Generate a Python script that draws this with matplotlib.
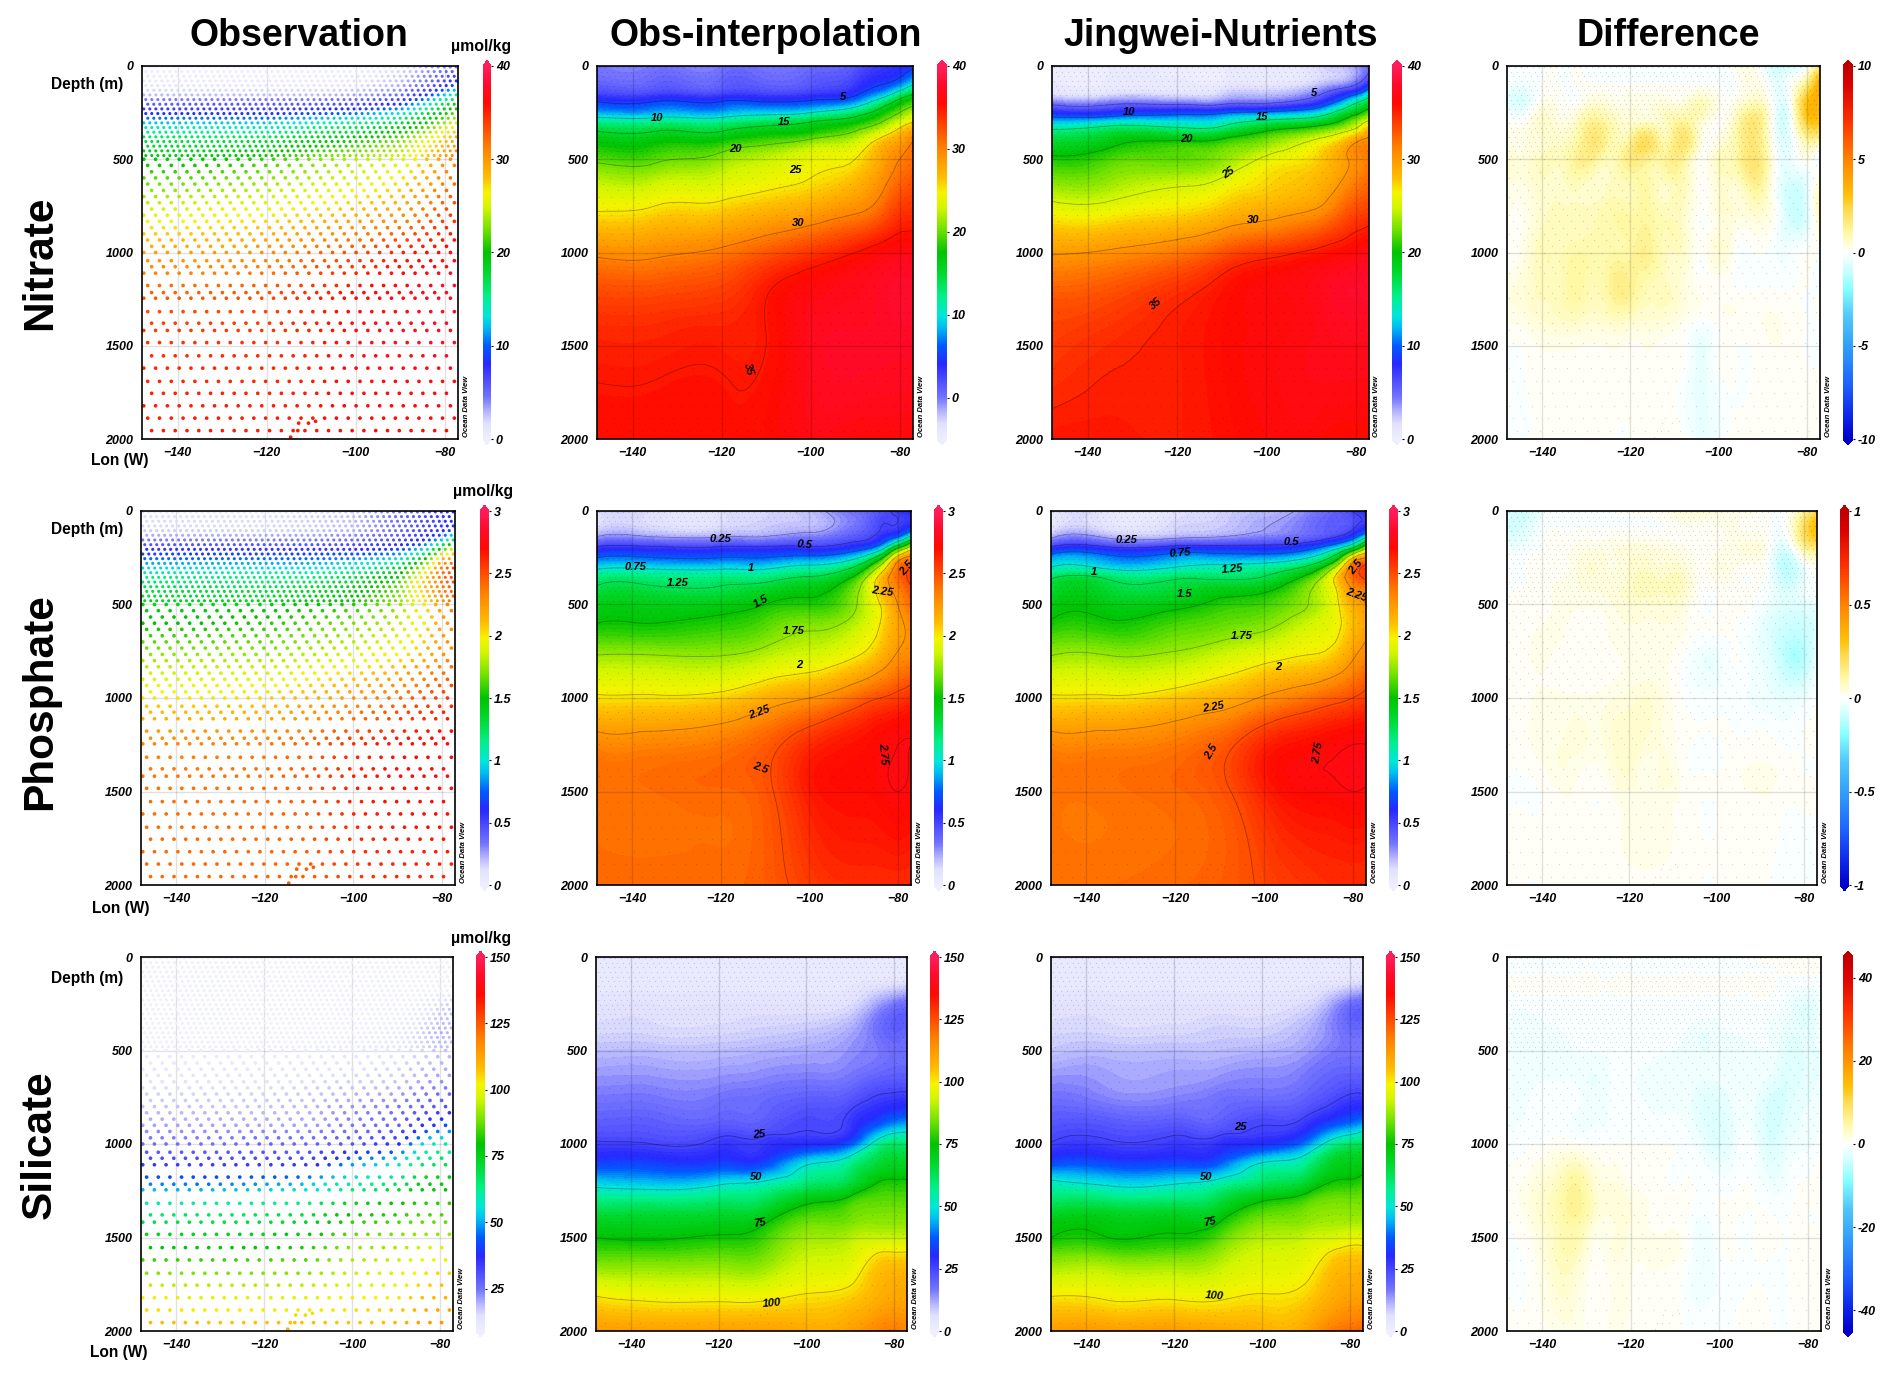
#!/usr/bin/env python
import numpy as np
import matplotlib
matplotlib.use("Agg")
import matplotlib.pyplot as plt
from matplotlib.cm import ScalarMappable
from matplotlib.colors import LinearSegmentedColormap, Normalize
from matplotlib.tri import Triangulation, UniformTriRefiner

plt.rcParams["font.family"] = ["Liberation Sans", "DejaVu Sans"]

W, H = 1892, 1380

LONS = [-148, -135, -120, -110, -100, -90, -84, -80, -77]
DEPTHS = [0, 100, 150, 200, 250, 300, 350, 400, 500, 600, 750, 1000, 1250, 1500, 2000]
SI_DEPTHS = [0, 150, 250, 400, 500, 650, 800, 900, 1000, 1100, 1200, 1300, 1400, 1500, 1600, 1800, 2000]
DIFF_LONS = [-148, -144, -140, -136, -132, -128, -124, -120, -116, -112, -108, -104, -100, -96, -92, -88, -84, -80, -77]
DIFF_DEPTHS = [0, 100, 200, 300, 400, 500, 650, 800, 1000, 1200, 1400, 1600, 2000]

no3_obs = [
    [0, 0, 0, 0, 0.5, 1.5, 3, 4, 4.5],
    [1, 1, 1, 1, 1.5, 3, 5, 7, 10],
    [2.5, 2.5, 2.5, 2.5, 3, 4.5, 8, 12, 15],
    [5.5, 5.5, 5.5, 5.5, 6, 8, 13, 17, 19],
    [8, 8, 8, 9, 10, 13, 17, 20, 22],
    [12, 12, 12, 13.5, 15, 17, 20, 23, 25],
    [15, 15, 15, 16.5, 17.5, 20, 23, 26, 28],
    [17, 17, 17.5, 19, 20.5, 22.5, 26, 28, 30],
    [19.5, 19.5, 21, 22.5, 24, 25, 28, 30, 31],
    [22, 22, 23, 24, 25, 26.5, 29, 31, 32],
    [24.5, 25, 25.5, 26.5, 27.5, 29, 31, 33, 33.5],
    [29.5, 29.5, 30.5, 32, 33.5, 35, 36, 36.5, 36.5],
    [33, 33, 33.5, 35, 36.5, 37, 37.5, 38, 38],
    [34.5, 34.5, 34.7, 35, 37, 37.5, 37.5, 37.5, 37.5],
    [35.5, 35.5, 35.3, 35.5, 36.5, 36, 36, 36, 36],
]
no3_model = [
    [0.3, 0.3, 0.3, 0.3, 0.6, 1.5, 2.5, 3.5, 5],
    [0.5, 0.5, 0.5, 0.7, 1, 2, 3.5, 5, 8],
    [1.5, 1.5, 1.5, 2, 2.5, 4, 7, 9.5, 13],
    [4.5, 4.5, 4.5, 4.5, 5, 7, 11, 15, 18],
    [8, 8, 9, 9.5, 10.5, 12, 16, 19, 21.5],
    [12, 13, 13, 13.5, 16, 17.5, 20, 23, 25.5],
    [15.5, 17, 16.5, 17, 20, 22, 24, 26, 29],
    [17.5, 19, 20, 20.5, 22.5, 25, 27, 29.5, 30.5],
    [20.5, 21.5, 22, 23, 25.5, 27, 29, 30.5, 31.5],
    [22.5, 23, 24, 25, 27, 28, 29.5, 31, 32],
    [25.5, 25.5, 26.5, 27.5, 28.5, 29.5, 31.5, 33, 33.5],
    [29.8, 30.3, 31.5, 33, 34.3, 35.3, 36, 36.5, 37],
    [33, 33.5, 34.8, 35.8, 36.5, 37, 37.8, 38, 38],
    [34, 34.7, 35.3, 36, 36.5, 37, 37.3, 37.3, 37.3],
    [35.5, 35.5, 35.3, 35.8, 36.3, 36.5, 36, 36, 36],
]
po4_obs = [
    [.12, .12, .12, .15, .2, .35, .45, .55, .6],
    [.15, .15, .15, .18, .22, .35, .5, .55, .7],
    [.3, .3, .3, .3, .35, .45, .6, .85, 1.2],
    [.55, .55, .55, .55, .55, .65, .9, 1.5, 1.9],
    [.75, .75, .75, .75, .8, .95, 1.4, 2.1, 2.3],
    [.95, .95, .95, .95, 1.05, 1.25, 1.8, 2.35, 2.5],
    [1.15, 1.15, 1.15, 1.15, 1.25, 1.5, 2.05, 2.4, 2.55],
    [1.25, 1.25, 1.25, 1.3, 1.4, 1.65, 2.1, 2.35, 2.5],
    [1.4, 1.4, 1.42, 1.5, 1.55, 1.72, 2.0, 2.25, 2.4],
    [1.5, 1.5, 1.55, 1.62, 1.7, 1.8, 2.0, 2.2, 2.3],
    [1.72, 1.72, 1.72, 1.78, 1.85, 1.95, 2.1, 2.25, 2.3],
    [2.02, 2.02, 2.05, 2.15, 2.25, 2.4, 2.5, 2.55, 2.6],
    [2.33, 2.33, 2.37, 2.45, 2.6, 2.68, 2.72, 2.75, 2.75],
    [2.4, 2.4, 2.42, 2.47, 2.65, 2.7, 2.72, 2.75, 2.73],
    [2.42, 2.42, 2.42, 2.45, 2.55, 2.6, 2.6, 2.6, 2.6],
]
po4_model = [
    [.05, .08, .1, .15, .2, .3, .4, .5, .6],
    [.1, .12, .15, .18, .25, .35, .42, .5, .65],
    [.27, .27, .27, .3, .35, .42, .55, .75, 1.1],
    [.55, .55, .6, .6, .6, .7, .95, 1.3, 1.75],
    [.85, .8, .85, .85, .85, 1.0, 1.35, 2.0, 2.25],
    [1.0, .95, 1.0, 1.05, 1.1, 1.3, 1.75, 2.35, 2.55],
    [1.2, 1.2, 1.2, 1.2, 1.25, 1.55, 2.0, 2.4, 2.55],
    [1.3, 1.3, 1.3, 1.35, 1.4, 1.7, 2.0, 2.3, 2.4],
    [1.42, 1.42, 1.45, 1.55, 1.6, 1.75, 1.95, 2.15, 2.25],
    [1.52, 1.52, 1.6, 1.65, 1.7, 1.85, 1.95, 2.1, 2.2],
    [1.72, 1.72, 1.75, 1.82, 1.9, 1.98, 2.05, 2.2, 2.3],
    [2.02, 2.02, 2.08, 2.15, 2.27, 2.38, 2.45, 2.5, 2.55],
    [2.33, 2.33, 2.37, 2.45, 2.62, 2.7, 2.73, 2.75, 2.75],
    [2.39, 2.39, 2.42, 2.47, 2.63, 2.72, 2.73, 2.75, 2.74],
    [2.4, 2.4, 2.42, 2.45, 2.52, 2.58, 2.6, 2.6, 2.6],
]
si_obs = [
    [3, 3, 3, 3, 3, 3, 3, 3.5, 4],
    [3, 3, 3, 3, 3, 3.5, 5, 6, 7],
    [5, 5, 5, 5, 5, 6, 12, 16, 18],
    [7, 7, 7, 8, 9, 12, 17, 20, 19],
    [10, 10, 10, 11, 12, 14, 16, 18, 18],
    [14, 14, 14, 15, 16, 17, 20, 21, 21],
    [18, 18, 18, 19, 22, 24, 28, 30, 31],
    [21, 21, 21, 21, 24.5, 27, 36, 42, 44],
    [26, 25, 27, 27, 30, 36, 54, 60, 60],
    [33, 33, 33, 33, 48, 56, 65, 68, 68],
    [46, 44, 47, 50, 58, 64, 74, 76, 76],
    [58, 58, 60, 62, 72, 78, 82, 82, 82],
    [68, 68, 69, 72, 82, 84, 86, 86, 86],
    [75, 74, 76, 79, 88, 90, 92, 92, 92],
    [82, 82, 83, 84, 92, 94, 101, 102, 102],
    [99, 97, 97, 97, 100, 102, 107, 109, 109],
    [112, 111, 111, 111, 109, 111, 116, 118, 116],
]
si_model = [
    [3, 3, 3, 3, 3, 3, 3, 3.5, 4.5],
    [3, 3, 3, 3, 3, 3.5, 5, 6.5, 8],
    [5, 5, 5, 5, 5, 6.5, 12, 17, 19],
    [7, 7, 7, 8, 8, 11, 15, 18, 18],
    [9, 10, 10, 10, 11, 13, 16, 17, 17],
    [14, 13, 13, 14, 15, 17, 20, 21, 21],
    [19, 17, 17, 18, 20, 22, 26, 29, 30],
    [22, 22, 22, 21, 25, 28, 36, 40, 44],
    [25.5, 26, 27, 28, 31, 40, 55, 60, 62],
    [34, 34, 34, 36, 50, 56, 68, 70, 71],
    [51, 47, 48, 52, 60, 66, 75, 76, 78],
    [60, 60, 60, 64, 74, 80, 84, 84, 84],
    [71, 71, 71, 73, 84, 86, 88, 88, 88],
    [75, 75, 76, 81, 90, 92, 94, 96, 96],
    [84, 84, 84, 88, 94, 96, 102, 104, 104],
    [99, 98, 98, 98, 100, 102, 108, 110, 110],
    [112, 112, 112, 110, 108, 110, 118, 120, 122],
]
no3_diff = [
    [0, 0, 0, 0, 0, 0, 0, 0, 0, 0, 0, 0, 0, .2, .2, -.8, -.8, -.3, 1.5],
    [-.2, -.3, 0, 0, 0, 0, 0, 0, 0, 0, 0, 0, 0, 0, .3, -.3, -.1, 1.5, 3.8],
    [-.5, -.6, .2, .1, .1, .5, .3, .3, .3, .4, .4, .8, .2, .3, .8, 0, -.2, 3, 3.2],
    [.1, .1, .6, .3, .7, 1.3, .8, .5, .6, .7, 1.2, .5, .1, .8, 1.7, .1, -.4, 2.5, 2.8],
    [.3, .3, .5, .6, 1, 1.7, .9, 1.2, 2, .9, 1.8, .3, .3, 1, 1.7, .2, -.5, 1, 1],
    [.6, .4, .7, .7, 1.3, 1.2, .8, 1.5, 1.3, 1.2, 1.2, .1, .7, 1, 1.8, .4, -.4, .2, -.4],
    [.3, .3, .6, .6, .7, .5, .7, .8, 1, .6, .8, 0, .5, .5, 1.2, .2, -.8, -.5, .6],
    [.2, .2, .6, .7, .7, .8, 1, 1, 1.1, .8, .6, 0, .4, .4, .5, .2, -.8, -.6, .8],
    [.1, .3, .8, .8, 1, .9, 1, 1.1, 1.3, .7, .6, 0, .5, 0, 0, -.1, -.2, 0, 0],
    [.3, .5, .7, .8, 1.1, .8, 1.3, 1.3, .8, .7, .4, .1, .1, 0, 0, 0, 0, 0, 0],
    [.1, .2, .4, .5, .5, .4, .5, .4, .4, .3, .1, -.2, 0, .1, .1, .2, .1, 0, 0],
    [0, 0, .1, .1, .1, .1, .1, .1, .1, .1, 0, -.4, 0, 0, 0, .1, .1, 0, 0],
    [0, 0, 0, 0, 0, 0, 0, 0, .1, .1, 0, -.4, -.2, .1, .1, 0, 0, 0, 0],
]
po4_diff = [
    [-.05, -.08, -.03, 0, 0, 0, 0, .01, .01, .02, .05, .05, .04, .03, .02, 0, 0, .1, .2],
    [-.07, -.06, -.01, 0, 0, 0, 0, 0, 0, 0, .01, .01, .01, .02, .01, 0, 0, .2, .32],
    [-.03, -.02, 0, .01, .02, .03, .03, .04, .04, .03, .02, .01, .01, .03, .04, 0, -.06, .1, .15],
    [0, 0, .01, .01, .03, .05, .03, .05, .06, .05, .05, .01, .03, .02, .01, -.02, -.12, -.03, .01],
    [0, 0, .01, .02, .03, .04, .04, .06, .08, .07, .07, .01, .01, .01, 0, -.02, -.08, -.03, 0],
    [0, .01, .01, .02, .02, .02, .03, .05, .05, .05, .04, 0, 0, .01, 0, -.03, -.06, -.05, -.04],
    [0, .01, .02, .02, .01, .01, .02, .03, .03, .03, .02, 0, 0, 0, -.02, -.06, -.1, -.1, -.06],
    [0, .01, .02, .01, .01, .01, .01, .02, .02, .02, 0, -.03, -.03, 0, -.02, -.05, -.12, -.12, -.03],
    [0, .01, .02, .02, .02, .02, .03, .04, .05, .03, 0, -.01, -.01, -.01, -.02, -.03, -.04, -.03, 0],
    [0, .01, .03, .03, .04, .03, .05, .06, .05, .03, .01, 0, 0, 0, 0, 0, -.01, 0, 0],
    [0, 0, .01, .03, .02, .01, .03, .05, .02, .04, .01, 0, 0, .01, .02, .02, .01, 0, 0],
    [0, 0, 0, .01, .01, 0, .01, .02, .02, .02, .01, 0, 0, .01, .01, .01, 0, 0, 0],
    [.01, 0, 0, .01, .01, 0, .01, .01, .01, .01, .01, 0, 0, .01, .01, 0, 0, 0, 0],
]
si_diff = [
    [0, 0, 0, 0, 0, 0, 0, 0, 0, 0, 0, 0, 0, 0, 0, 0, 0, 0, 0],
    [0, 0, 0, 0, 0, 0, 0, 0, 0, 0, 0, 0, 0, 0, 0, 0, 0, 0, 0],
    [0, 0, 0, 0, 0, 0, 0, 0, 0, 0, 0, 0, 0, 0, 0, 0, -1, -1.5, -1],
    [-.5, -1, -.5, -.5, -.3, -.3, -.2, -.2, -.2, -.2, -.3, -.5, -.5, -.3, -.3, -.5, -1.5, -2.5, -1],
    [-.8, -1.3, -1, -.8, -.5, -.5, -.5, -.3, -.3, -.3, -.7, -1.5, -1, -.7, -.5, -1, -2, -2, -1],
    [-1, -1.3, -1, -1, -.7, -.7, -.6, -.5, -.5, -.7, -1, -1.5, -1.2, -1, -1, -1, -2.5, -2, -1.5],
    [-1, -1, -.8, -.8, -1, -1.6, -.7, -.7, -1, -1.5, -1, -1.5, -1.3, -1.2, -1.2, -2, -3, -2, -1.5],
    [-.8, -.8, -.5, -.5, -.7, -1, -.6, -.5, -.8, -1, -1, -2.5, -2.5, -1, -1.5, -3.5, -2.5, -1.5, -1],
    [-.5, -.3, 0, .5, .3, 0, 0, 0, 0, 0, -.3, -1.5, -2.5, -1, -1, -3, -1.5, -1, -.3],
    [.3, .8, 2, 3.5, 5, 2, 1.5, .5, .5, 0, 0, -.2, -.5, -.2, -.3, -1.5, -.5, 0, .3],
    [0, .8, 2.5, 4, 5, 2, 1.5, 1.5, .7, .5, .3, -1, 0, 0, 0, 0, 0, 0, 0],
    [0, 0, 1.5, 3.5, 3, .5, 1.5, 1, 1, 1, .3, -1.5, -.3, 0, 0, 0, 0, .3, .3],
    [0, 0, .5, 1, 1, 0, 1, .5, .3, .3, 0, 0, 0, 0, .7, 0, 0, .5, .5],
]

# sampling levels of the cruise, shallow to deep
SHALLOW_ROWS = [5, 30, 55, 80, 105, 130, 155, 180, 205, 230, 255, 280, 305, 330, 355, 380, 405, 430, 455, 480]
MID_ROWS = [500, 533, 567, 600, 633, 667, 700, 733, 767, 800, 833, 867, 900, 933, 967, 1000, 1044]
DEEP_ROWS = [1076, 1111, 1177, 1215, 1245, 1317, 1379, 1418, 1483, 1554, 1620, 1691, 1755, 1822, 1888, 1955]
EXTRA_LON = [-114.6, -112.8, -110.6, -109.0, -113.0]
EXTRA_DEPTH = [1990, 1915, 1915, 1905, 1955]

COLUMNS = ["Observation", "Obs-interpolation", "Jingwei-Nutrients", "Difference"]
ROWS = ["Nitrate", "Phosphate", "Silicate"]
XTICKS = [-140, -120, -100, -80]
YTICKS = [0, 500, 1000, 1500, 2000]

# panel boxes in pixels: x0, x1 of panel, x0, x1 of bar
TOPS = [(66, 439), (511, 885), (957, 1331)]
BOXES = [
    [(142, 458, 483, 491), (597, 913, 937, 947), (1052, 1369, 1392, 1402), (1507, 1820, 1843, 1853)],
    [(141, 455, 480, 489), (597, 911, 934, 943), (1051, 1366, 1389, 1398), (1507, 1817, 1840, 1849)],
    [(141, 453, 476, 485), (596, 907, 930, 939), (1051, 1363, 1386, 1395), (1507, 1821, 1843, 1853)],
]
TITLE_X = [299, 766, 1221, 1668]
ROW_Y = [263, 702, 1145]
UNIT_POS = [(481, 47), (483, 492), (481, 938)]
DEPTH_Y = [84, 530, 978]
LON_POS = [(120, 461), (121, 909), (119, 1352)]

# label text, lon, depth, rotation
LABELS = {
    (0, 1): [("5", -92.8, 165, 0), ("10", -134.6, 281, 0), ("15", -106, 299, 0), ("20", -116.8, 447, 0),
             ("25", -103.5, 558, 0), ("30", -102.8, 840, 0), ("35", -114, 1627, -75)],
    (0, 2): [("5", -89.3, 143, 0), ("10", -130.8, 245, 0), ("15", -101, 276, 0), ("20", -118, 390, 0),
             ("25", -108.4, 576, 35), ("30", -103, 828, 0), ("35", -124.8, 1272, 40)],
    (1, 1): [("0.25", -120, 151, 0), ("0.5", -101, 182, -5), ("0.75", -139.4, 301, 0), ("1", -113.2, 306, 0),
             ("1.25", -129.8, 383, 0), ("1.5", -111, 485, 30), ("1.75", -103.6, 644, 0), ("2", -102.3, 823, 0),
             ("2.25", -111.2, 1076, 20), ("2.25", -83.5, 431, -8), ("2.5", -111, 1371, -20),
             ("2.75", -83.4, 1300, -85), ("2.5", -78, 306, 50)],
    (1, 2): [("0.25", -130.9, 155, 0), ("0.5", -93.9, 164, 0), ("0.75", -118.9, 225, 5), ("1", -138.3, 325, 0),
             ("1.25", -107, 310, 5), ("1.5", -117.8, 445, 0), ("1.75", -105, 667, 0), ("2", -96.8, 833, 0),
             ("2.25", -111.3, 1050, 10), ("2.25", -79.2, 449, -20), ("2.5", -111.8, 1287, 60),
             ("2.5", -79.3, 300, 50), ("2.75", -87.8, 1295, 80)],
    (2, 1): [("25", -110.8, 948, 5), ("50", -111.5, 1175, 0), ("75", -110.6, 1420, 10), ("100", -107.9, 1852, 5)],
    (2, 2): [("25", -104.8, 911, 0), ("50", -112.8, 1177, 0), ("75", -111.8, 1415, 10), ("100", -110.7, 1811, -5)],
}

odv = LinearSegmentedColormap.from_list("odv", [
    (0, (238/255, 238/255, 1)), (.04, (225/255, 225/255, 1)), (.07, (185/255, 185/255, 1)),
    (.111, (115/255, 115/255, 1)), (.2, (40/255, 40/255, 1)),
    (.25, (0, 90/255, 1)), (.3, (0, 190/255, 240/255)), (.33, (0, 230/255, 220/255)),
    (.38, (0, 240/255, 140/255)), (.45, (0, 215/255, 40/255)), (.5, (0, 195/255, 0)),
    (.56, (110/255, 225/255, 0)), (.62, (210/255, 245/255, 0)), (.66, (245/255, 245/255, 0)),
    (.70, (1, 190/255, 0)), (.78, (1, 130/255, 0)), (.84, (1, 70/255, 0)),
    (.9, (1, 10/255, 0)), (.95, (1, 10/255, 40/255)), (1, (1, 30/255, 90/255)),
], N=512)
div = LinearSegmentedColormap.from_list("div", [
    (0, (0, 0, 200/255)), (.05, (10/255, 30/255, 230/255)), (.15, (30/255, 100/255, 1)),
    (.25, (50/255, 160/255, 250/255)), (.33, (80/255, 200/255, 250/255)), (.4, (130/255, 1, 1)),
    (.45, (200/255, 1, 1)), (.5, (1, 1, 1)), (.55, (1, 250/255, 170/255)), (.62, (1, 215/255, 70/255)),
    (.65, (1, 195/255, 10/255)), (.75, (1, 130/255, 0)), (.85, (1, 50/255, 0)),
    (.95, (220/255, 0, 0)), (1, (190/255, 0, 0)),
], N=512)

# vmin, vmax, ticks, labels per column
NO3_BAR = ([0, 40], [0, 10, 20, 30, 40], ["0", "10", "20", "30", "40"])
NO3_INT_BAR = ([-5, 40], [0, 10, 20, 30, 40], ["0", "10", "20", "30", "40"])
PO4_BAR = ([0, 3], [0, .5, 1, 1.5, 2, 2.5, 3], ["0", "0.5", "1", "1.5", "2", "2.5", "3"])
SI_OBS_BAR = ([9, 150], [25, 50, 75, 100, 125, 150], ["25", "50", "75", "100", "125", "150"])
SI_BAR = ([0, 150], [0, 25, 50, 75, 100, 125, 150], ["0", "25", "50", "75", "100", "125", "150"])
NO3_DIFF_BAR = ([-10, 10], [-10, -5, 0, 5, 10], ["-10", "-5", "0", "5", "10"])
PO4_DIFF_BAR = ([-1, 1], [-1, -.5, 0, .5, 1], ["-1", "-0.5", "0", "0.5", "1"])
SI_DIFF_BAR = ([-45, 45], [-40, -20, 0, 20, 40], ["-40", "-20", "0", "20", "40"])
BARS = [
    [NO3_BAR, NO3_INT_BAR, NO3_BAR, NO3_DIFF_BAR],
    [PO4_BAR, PO4_BAR, PO4_BAR, PO4_DIFF_BAR],
    [SI_OBS_BAR, SI_BAR, SI_BAR, SI_DIFF_BAR],
]
TABLES = [
    [no3_obs, no3_obs, no3_model, no3_diff],
    [po4_obs, po4_obs, po4_model, po4_diff],
    [si_obs, si_obs, si_model, si_diff],
]
ROW_DEPTHS = [DEPTHS, DEPTHS, SI_DEPTHS]
CONTOURS = [[5, 10, 15, 20, 25, 30, 35],
            [.25, .5, .75, 1, 1.25, 1.5, 1.75, 2, 2.25, 2.5, 2.75],
            [25, 50, 75, 100]]
DEPTH_SCALE = 28.0


def sites():
    xs, ys = [], []
    for j, d in enumerate(SHALLOW_ROWS):
        lon = np.arange(-147.6 + [0, .45, .9][j % 3], -77, 1.35)
        xs.append(lon)
        ys.append(np.full(len(lon), d))
    for j, d in enumerate(MID_ROWS + DEEP_ROWS):
        lon = np.arange(-147.6 + [0, .88, 1.76][j % 3], -77, 2.65)
        xs.append(lon)
        ys.append(np.full(len(lon), d))
    return (np.concatenate(xs + [np.array(EXTRA_LON)]),
            np.concatenate(ys + [np.array(EXTRA_DEPTH)]))


def value_at(table, depths, x, y):
    table = np.array(table, float)
    cols = np.array([np.interp(y, depths, table[:, i]) for i in range(table.shape[1])])
    return np.array([np.interp(x[k], LONS, cols[:, k]) for k in range(len(x))])


def smooth_field(lons, depths, table):
    # let matplotlib's refiner round off the corners between the read nodes
    xx, yy = np.meshgrid(lons, np.array(depths, float) / DEPTH_SCALE)
    tri = Triangulation(xx.ravel(), yy.ravel())
    fine, z = UniformTriRefiner(tri).refine_field(np.array(table, float).ravel(), subdiv=3)
    fine = Triangulation(fine.x, fine.y * DEPTH_SCALE, fine.triangles)
    return fine, z


def px_axes(fig, x0, x1, y0, y1):
    return fig.add_axes([x0 / W, 1 - y1 / H, (x1 - x0) / W, (y1 - y0) / H])


def ftext(fig, x, y, s, **kw):
    fig.text(x / W, 1 - y / H, s, **kw)


def main():
    fig = plt.figure(figsize=(W / 100, H / 100), dpi=100)
    sx, sy = sites()
    sizes = np.where(sy < 495, 5.0, 7.0)

    for c, name in enumerate(COLUMNS):
        ftext(fig, TITLE_X[c], 46, name, ha="center", va="baseline", fontsize=27, fontweight="bold")

    for r, name in enumerate(ROWS):
        ftext(fig, 51, ROW_Y[r], name, rotation=90, rotation_mode="anchor", ha="center", va="baseline",
              fontsize=30.5, fontweight="bold")
        top, bottom = TOPS[r]
        for c in range(4):
            x0, x1, bx0, bx1 = BOXES[r][c]
            (vmin, vmax), ticks, tick_labels = BARS[r][c]
            cmap = div if c == 3 else odv
            norm = Normalize(vmin, vmax)
            ax = px_axes(fig, x0, x1, top, bottom)
            if c == 0:
                v = value_at(TABLES[r][c], ROW_DEPTHS[r], sx, sy)
                ax.scatter(sx, sy, c=v, cmap=cmap, norm=norm, s=sizes, linewidths=0, zorder=3)
            else:
                lons = DIFF_LONS if c == 3 else LONS
                depths = DIFF_DEPTHS if c == 3 else ROW_DEPTHS[r]
                fine, z = smooth_field(lons, depths, TABLES[r][c])
                levels = np.linspace(vmin, vmax, 121)
                ax.tricontourf(fine, z, levels=levels, cmap=cmap, norm=norm, extend="both", antialiased=False)
                ax.scatter(sx, sy, s=0.8, color="#00000028", linewidths=0, zorder=3)
                if c != 3:
                    ax.tricontour(fine, z, levels=CONTOURS[r], colors="#00000050", linewidths=0.6, zorder=4)
                    for txt, lx, ly, rot in LABELS[(r, c)]:
                        ax.text(lx, ly, txt, rotation=rot, ha="center", va="center", fontsize=8,
                                fontweight="bold", fontstyle="italic", zorder=5, clip_on=True)
            ax.set_xlim(-148, -77)
            ax.set_ylim(2000, 0)
            ax.set_xticks(XTICKS)
            ax.set_yticks(YTICKS)
            ax.grid(True, color="black", alpha=0.15 if c in (1, 2) else 0.12, linewidth=1.0, zorder=2)
            ax.set_axisbelow(False)
            ax.tick_params(length=0, labelsize=9, pad=6)
            for t in ax.get_xticklabels() + ax.get_yticklabels():
                t.set_fontweight("bold")
                t.set_fontstyle("italic")
            for s in ax.spines.values():
                s.set_linewidth(1.2)
                s.set_zorder(6)

            ftext(fig, x1 + 8, bottom - 2, "Ocean Data View", rotation=90, ha="center", va="bottom", fontsize=5.5,
                  fontweight="bold", fontstyle="italic")

            # the arrow tips live inside the bar axes, so it sticks out by their height
            tip = 6
            cax = px_axes(fig, bx0, bx1, top - tip, bottom + tip)
            cb = fig.colorbar(ScalarMappable(norm=norm, cmap=cmap), cax=cax, extend="both",
                              extendfrac=tip / (bottom - top), ticks=ticks)
            cb.ax.set_yticklabels(tick_labels)
            cb.outline.set_visible(False)
            cb.ax.tick_params(length=1.5, width=0.8, labelsize=9, pad=2)
            for t in cb.ax.get_yticklabels():
                t.set_fontweight("bold")
                t.set_fontstyle("italic")

        ftext(fig, 87, DEPTH_Y[r], "Depth (m)", ha="center", va="center", fontsize=11.2, fontweight="bold")
        ftext(fig, LON_POS[r][0], LON_POS[r][1], "Lon (W)", ha="center", va="center", fontsize=11.2, fontweight="bold")
        ftext(fig, UNIT_POS[r][0], UNIT_POS[r][1], "µmol/kg", ha="center", va="center", fontsize=11.4, fontweight="bold")

    fig.savefig("out.png", dpi=100)


if __name__ == "__main__":
    main()
